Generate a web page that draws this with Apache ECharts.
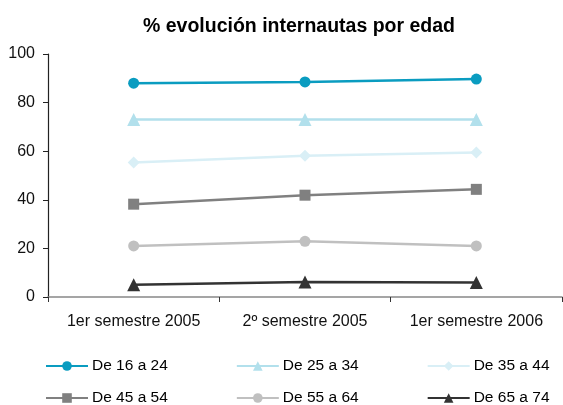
<!DOCTYPE html>
<html>
<head>
<meta charset="utf-8">
<script src="https://cdn.jsdelivr.net/npm/echarts@6/dist/echarts.min.js"></script>
<style>
  html, body { margin: 0; padding: 0; background: #fff; }
  #chart { width: 563px; height: 405px; }
</style>
</head>
<body>
<div id="chart"></div>
<script>
// Semesters on the category axis
const categories = ['1er semestre 2005', '2º semestre 2005', '1er semestre 2006'];

// Share of internet users (%) per age group
const names = ['De 16 a 24', 'De 25 a 34', 'De 35 a 44', 'De 45 a 54', 'De 55 a 64', 'De 65 a 74'];
const age16to24 = [88, 88.5, 89.7];
const age25to34 = [73, 73, 73];
const age35to44 = [55.3, 58.1, 59.5];
const age45to54 = [38.2, 41.9, 44.3];
const age55to64 = [21, 22.9, 21];
const age65to74 = [5, 6.2, 6];

const yTicks = { min: 0, max: 100, interval: 20 };

const values = [age16to24, age25to34, age35to44, age45to54, age55to64, age65to74];
const colors = ['#0a9cc0', '#b2e0ec', '#d9eff6', '#808080', '#c0c0c0', '#333333'];
const symbols = ['circle', 'triangle', 'diamond', 'rect', 'circle', 'triangle'];
const sizes = [11, 13, 12, 11, 11, 13];

const font = 'Liberation Sans, Arial, sans-serif';

const chart = echarts.init(document.getElementById('chart'), null, { renderer: 'canvas' });

const legendBase = {
  left: 45,
  padding: 0,
  itemWidth: 42,
  itemHeight: 12,
  itemGap: 68,
  textStyle: { fontFamily: font, fontSize: 15.5, color: '#000', padding: [0, 0, 0, -1] },
  selectedMode: false
};

chart.setOption({
  animation: false,
  title: {
    text: '% evolución internautas por edad',
    left: 294,
    textAlign: 'center',
    top: 12,
    textStyle: { fontFamily: font, fontSize: 19.5, fontWeight: 'bold', color: '#000' }
  },
  legend: [
    Object.assign({}, legendBase, { top: 358, data: names.slice(0, 3) }),
    Object.assign({}, legendBase, { top: 390, data: names.slice(3) })
  ],
  grid: { left: 48, right: 1, top: 54, bottom: 108, containLabel: false },
  xAxis: {
    type: 'category',
    data: categories,
    boundaryGap: true,
    axisLine: { lineStyle: { color: '#888', width: 1.5 } },
    axisTick: { show: true, interval: 0, alignWithLabel: false, length: 5, lineStyle: { color: '#333' } },
    axisLabel: { interval: 0, hideOverlap: false, fontFamily: font, fontSize: 16, color: '#111', margin: 17 },
    splitLine: { show: false }
  },
  yAxis: {
    type: 'value',
    min: yTicks.min,
    max: yTicks.max,
    interval: yTicks.interval,
    axisLine: { show: true, lineStyle: { color: '#222', width: 1.2 } },
    axisTick: { show: true, length: 5, lineStyle: { color: '#222' } },
    axisLabel: { fontFamily: font, fontSize: 16, color: '#111', margin: 13 },
    splitLine: { show: false }
  },
  series: names.map((n, i) => ({
    name: n,
    type: 'line',
    data: values[i],
    symbol: symbols[i],
    symbolSize: sizes[i],
    showAllSymbol: true,
    lineStyle: { color: colors[i], width: 2.5 },
    itemStyle: { color: colors[i] },
    emphasis: { disabled: true }
  }))
});
</script>
</body>
</html>
